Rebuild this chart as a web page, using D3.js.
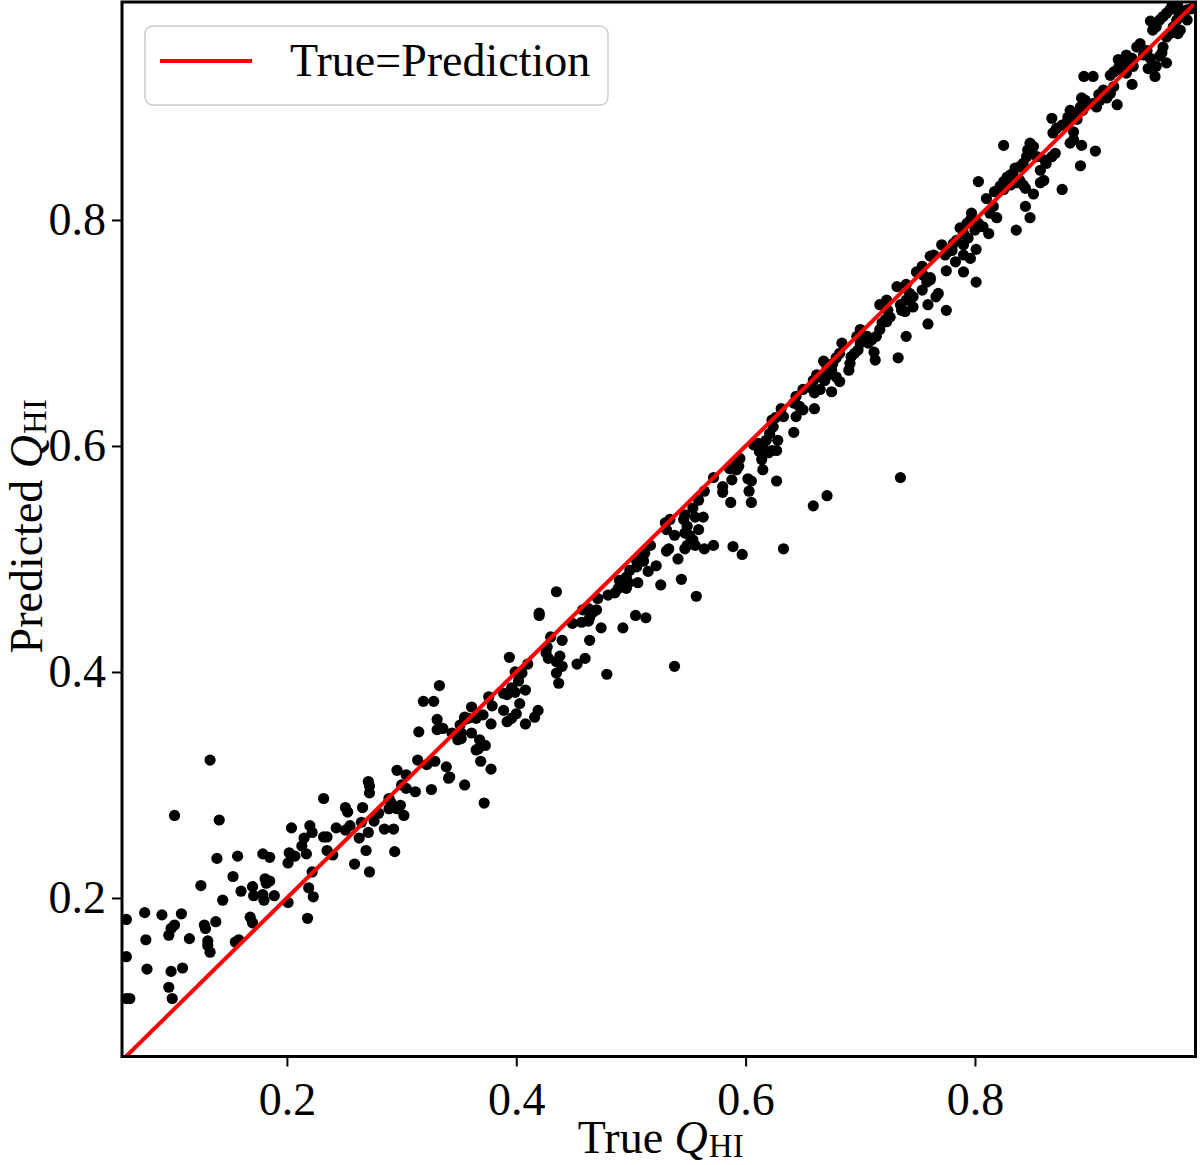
<!DOCTYPE html>
<html>
<head>
<meta charset="utf-8">
<script src="https://cdn.jsdelivr.net/npm/d3@7"></script>
<style>
  body { margin: 0; background: #fff; }
  svg text { font-family: "Liberation Serif", "Times New Roman", serif; }
</style>
</head>
<body>
<div id="chart"></div>
<script>
// True vs predicted Q_HI
const trueQ = [
  0.102,0.141,0.232,0.271,0.272,0.272,0.251,0.253,0.266,0.280,
  0.289,0.291,0.204,0.220,0.222,0.215,0.213,0.232,0.235,0.243,
  0.251,0.255,0.265,0.276,0.271,0.263,0.285,0.293,0.294,0.269,
  0.259,0.272,0.235,0.240,0.217,0.202,0.204,0.207,0.201,0.179,
  0.185,0.157,0.139,0.153,0.181,0.182,0.185,0.170,0.171,0.160,
  0.179,0.180,0.189,0.201,0.219,0.223,0.222,0.218,0.125,0.144,
  0.168,0.170,0.060,0.076,0.091,0.108,0.099,0.102,0.097,0.077,
  0.115,0.128,0.129,0.138,0.131,0.131,0.133,0.155,0.158,0.060,
  0.078,0.099,0.109,0.097,0.100,0.060,0.063,0.133,
  0.435,0.420,0.420,0.471,0.480,0.458,0.463,0.467,0.470,0.449,
  0.457,0.463,0.464,0.474,0.464,0.440,0.430,0.427,0.426,0.428,
  0.438,0.435,0.440,0.435,0.437,0.453,0.460,0.479,0.394,0.410,
  0.399,0.405,0.402,0.396,0.399,0.408,0.389,0.392,0.403,0.389,
  0.400,0.396,0.392,0.419,0.416,0.408,0.376,0.379,0.361,0.371,
  0.365,0.358,0.355,0.378,0.333,0.319,0.328,0.331,0.331,0.336,
  0.315,0.344,0.351,0.355,0.352,0.361,0.349,0.352,0.368,0.373,
  0.367,0.365,0.369,0.378,0.355,0.372,0.314,0.329,0.322,0.339,
  0.342,0.341,0.326,0.296,0.304,0.300,0.304,0.312,0.289,0.291,
  0.296,0.299,0.302,
  0.650,0.644,0.642,0.647,0.650,0.644,0.631,0.633,0.626,0.623,
  0.642,0.624,0.621,0.628,0.618,0.615,0.612,0.610,0.607,0.623,
  0.620,0.627,0.612,0.614,0.615,0.595,0.592,0.589,0.594,0.586,
  0.592,0.588,0.602,0.605,0.627,0.603,0.605,0.572,0.580,0.580,
  0.587,0.564,0.559,0.554,0.556,0.563,0.547,0.546,0.534,0.530,
  0.531,0.538,0.549,0.547,0.551,0.559,0.554,0.549,0.556,0.547,
  0.564,0.572,0.589,0.597,0.633,0.541,0.533,0.531,0.544,0.557,
  0.526,0.522,0.515,0.517,0.512,0.508,0.505,0.511,0.505,0.499,
  0.496,0.495,0.490,0.498,0.493,0.489,0.496,0.506,0.486,
  0.493,0.504,0.513,
  0.735,0.671,0.659,0.538,
  0.817,0.810,0.816,0.813,0.819,0.812,0.807,0.801,0.797,0.796,
  0.793,0.787,0.790,0.794,0.800,0.803,0.801,0.801,0.790,0.796,
  0.790,0.783,0.780,0.775,0.771,0.774,0.775,0.784,0.781,0.790,
  0.764,0.761,0.754,0.749,0.755,0.761,0.761,0.758,0.754,0.766,
  0.768,0.775,0.759,0.759,0.732,0.740,0.743,0.746,0.740,0.735,
  0.736,0.739,0.746,0.723,0.717,0.724,0.726,0.722,0.719,0.717,
  0.714,0.723,0.740,0.733,0.712,0.713,0.710,0.707,0.706,0.700,
  0.697,0.700,0.698,0.695,0.692,0.691,0.690,0.684,0.682,0.679,
  0.676,0.675,0.671,0.668,0.672,0.669,0.665,0.662,0.659,0.679,
  0.682,0.675,0.665,0.660,0.658,0.660,
  0.825,0.803,0.876,0.892,0.905,0.893,0.883,0.886,0.870,0.867,
  0.862,0.861,0.857,0.860,0.857,0.851,0.848,0.851,0.849,0.846,
  0.854,0.845,0.842,0.839,0.835,0.833,0.831,0.828,0.825,0.831,
  0.836,0.842,0.839,0.844,0.844,0.848,0.836,0.825,0.822,0.867,
  0.871,0.868,0.876,0.880,0.881,0.886,0.883,0.889,0.893,0.896,
  0.899,0.903,0.906,0.892,0.909,0.894,0.886,0.924,0.915,0.908,
  0.918,0.921,0.912,0.895,0.903,0.918,0.921,0.924,0.926,0.929,
  0.925,0.932,0.937,0.935,0.938,0.932,0.937,0.941,0.944,0.950,
  0.947,0.953,0.957,0.951,0.958,0.963,0.964,0.967,0.953,0.955,
  0.958,0.961,0.964,0.967,0.970,0.973,0.976,0.979,0.967,0.970,
  0.973,0.976,0.979,0.982,0.985,
  0.977,0.985,0.961,0.972,0.977,0.989
];

const predQ = [
  0.273,0.269,0.288,0.303,0.299,0.293,0.280,0.276,0.280,0.275,
  0.279,0.284,0.262,0.264,0.258,0.253,0.246,0.254,0.254,0.262,
  0.260,0.264,0.267,0.268,0.258,0.253,0.261,0.261,0.241,0.242,
  0.230,0.223,0.242,0.238,0.239,0.240,0.237,0.237,0.231,0.239,
  0.236,0.237,0.235,0.219,0.217,0.213,0.215,0.210,0.202,0.206,
  0.203,0.198,0.202,0.196,0.209,0.201,0.223,0.182,0.211,0.198,
  0.183,0.178,0.181,0.187,0.185,0.186,0.173,0.176,0.167,0.163,
  0.164,0.176,0.173,0.179,0.162,0.158,0.152,0.161,0.163,0.148,
  0.137,0.135,0.138,0.121,0.111,0.111,0.111,0.322,
  0.471,0.452,0.450,0.465,0.468,0.455,0.456,0.453,0.455,0.443,
  0.444,0.445,0.448,0.439,0.428,0.428,0.431,0.422,0.417,0.412,
  0.414,0.409,0.405,0.399,0.390,0.407,0.412,0.398,0.413,0.407,
  0.400,0.399,0.392,0.386,0.382,0.384,0.381,0.380,0.372,0.366,
  0.363,0.359,0.356,0.366,0.360,0.354,0.378,0.370,0.369,0.362,
  0.359,0.359,0.360,0.354,0.388,0.374,0.374,0.358,0.349,0.350,
  0.347,0.346,0.353,0.358,0.346,0.346,0.340,0.341,0.340,0.335,
  0.332,0.331,0.321,0.314,0.300,0.284,0.322,0.321,0.318,0.316,
  0.307,0.306,0.296,0.313,0.309,0.300,0.297,0.294,0.288,0.281,
  0.279,0.282,0.273,
  0.650,0.644,0.638,0.635,0.632,0.626,0.633,0.626,0.625,0.623,
  0.612,0.617,0.611,0.605,0.605,0.601,0.602,0.602,0.601,0.596,
  0.594,0.596,0.595,0.588,0.579,0.589,0.586,0.583,0.582,0.580,
  0.579,0.570,0.571,0.569,0.569,0.560,0.550,0.572,0.564,0.559,
  0.550,0.560,0.552,0.545,0.537,0.537,0.539,0.535,0.535,0.532,
  0.526,0.521,0.529,0.523,0.521,0.526,0.517,0.512,0.512,0.509,
  0.509,0.512,0.511,0.504,0.509,0.500,0.509,0.507,0.482,0.467,
  0.477,0.494,0.489,0.512,0.505,0.502,0.498,0.498,0.493,0.490,
  0.484,0.481,0.481,0.479,0.476,0.474,0.474,0.479,0.470,
  0.439,0.450,0.448,
  0.572,0.556,0.547,0.405,
  0.825,0.819,0.812,0.806,0.802,0.788,0.794,0.799,0.806,0.800,
  0.797,0.793,0.788,0.784,0.791,0.797,0.774,0.745,0.754,0.766,
  0.769,0.763,0.773,0.771,0.778,0.769,0.755,0.782,0.779,0.778,
  0.769,0.768,0.759,0.754,0.751,0.749,0.747,0.745,0.738,0.732,
  0.735,0.720,0.725,0.708,0.741,0.743,0.735,0.732,0.729,0.725,
  0.720,0.719,0.723,0.729,0.725,0.720,0.714,0.712,0.709,0.703,
  0.697,0.710,0.697,0.678,0.683,0.676,0.694,0.691,0.697,0.703,
  0.697,0.691,0.685,0.682,0.679,0.673,0.667,0.691,0.682,0.678,
  0.673,0.667,0.670,0.675,0.663,0.658,0.661,0.663,0.658,0.661,
  0.657,0.648,0.650,0.647,0.651,0.633,
  0.866,0.834,0.827,0.848,0.861,0.866,0.868,0.871,0.859,0.856,
  0.850,0.853,0.844,0.835,0.833,0.823,0.868,0.865,0.860,0.862,
  0.856,0.856,0.850,0.847,0.846,0.841,0.840,0.838,0.834,0.831,
  0.833,0.831,0.835,0.828,0.812,0.802,0.791,0.827,0.830,0.890,
  0.881,0.877,0.884,0.886,0.891,0.894,0.897,0.889,0.908,0.906,
  0.903,0.903,0.900,0.900,0.906,0.897,0.878,0.902,0.908,0.911,
  0.912,0.918,0.915,0.927,0.927,0.928,0.931,0.933,0.936,0.937,
  0.942,0.946,0.943,0.939,0.936,0.930,0.920,0.953,0.956,0.950,
  0.946,0.943,0.927,0.934,0.936,0.948,0.953,0.939,0.976,0.968,
  0.971,0.977,0.980,0.983,0.986,0.989,0.986,0.968,0.962,0.965,
  0.971,0.977,0.980,0.983,0.986,
  0.965,0.977,0.945,0.990,0.989,0.987
];

// axis limits and ticks
const xLimits = [0.0562, 0.9923];
const yLimits = [0.0597, 0.9929];
const xTicks = [0.2, 0.4, 0.6, 0.8];
const yTicks = [0.2, 0.4, 0.6, 0.8];
const legendLabel = "True=Prediction";

// Dimensions
const W = 1200, H = 1165;
const plotLeft = 122, plotTop = 2;
const plotW = 1073.5, plotH = 1054.5;
const fontSize = 46;

const svg = d3.select("#chart")
  .append("svg")
  .attr("width", W)
  .attr("height", H);

const g = svg.append("g")
  .attr("transform", `translate(${plotLeft},${plotTop})`);

const x = d3.scaleLinear().domain(xLimits).range([0, plotW]);
const y = d3.scaleLinear().domain(yLimits).range([plotH, 0]);

// Clip marks to the axes box
g.append("clipPath").attr("id", "plot-clip")
  .append("rect").attr("width", plotW).attr("height", plotH);

const plot = g.append("g").attr("clip-path", "url(#plot-clip)");

// Scatter points
plot.selectAll("circle")
  .data(d3.zip(trueQ, predQ))
  .join("circle")
  .attr("cx", d => x(d[0]))
  .attr("cy", d => y(d[1]))
  .attr("r", 5.6)
  .attr("fill", "#000");

// One-to-one line
const lo = Math.min(xLimits[0], yLimits[0]);
const hi = Math.max(xLimits[1], yLimits[1]);
plot.append("line")
  .attr("x1", x(lo)).attr("y1", y(lo))
  .attr("x2", x(hi)).attr("y2", y(hi))
  .attr("stroke", "#ff0000")
  .attr("stroke-width", 4);

// Axes
const fmt = d3.format(".1f");
const xAxisG = g.append("g")
  .attr("transform", `translate(0,${plotH})`)
  .call(d3.axisBottom(x).tickValues(xTicks).tickFormat(fmt).tickSize(10).tickPadding(16));
const yAxisG = g.append("g")
  .call(d3.axisLeft(y).tickValues(yTicks).tickFormat(fmt).tickSize(10).tickPadding(6));

[xAxisG, yAxisG].forEach(a => {
  a.select(".domain").remove();
  a.attr("font-family", null).attr("font-size", null);
  a.selectAll(".tick line").attr("stroke", "#000").attr("stroke-width", 2);
  a.selectAll(".tick text")
    .attr("fill", "#000")
    .style("font-size", fontSize + "px");
});

// Frame
g.append("rect")
  .attr("width", plotW)
  .attr("height", plotH)
  .attr("fill", "none")
  .attr("stroke", "#000")
  .attr("stroke-width", 3);

// Axis labels
function qhiLabel(sel, prefix) {
  sel.append("tspan").text(prefix);
  sel.append("tspan").attr("font-style", "italic").text("Q");
  sel.append("tspan").attr("font-size", 33).attr("dx", 1).attr("dy", 4).text("HI");
}

const xLabel = svg.append("text")
  .attr("x", plotLeft + plotW / 2 + 2)
  .attr("y", 1153)
  .attr("text-anchor", "middle")
  .attr("font-size", fontSize);
qhiLabel(xLabel, "True ");

const yLabel = svg.append("text")
  .attr("transform", `translate(42,${plotTop + plotH / 2 - 3}) rotate(-90)`)
  .attr("text-anchor", "middle")
  .attr("font-size", fontSize);
qhiLabel(yLabel, "Predicted ");

// Legend
const legend = svg.append("g");
legend.append("rect")
  .attr("x", 145).attr("y", 26)
  .attr("width", 463).attr("height", 79)
  .attr("rx", 8)
  .attr("fill", "#fff")
  .attr("fill-opacity", 0.8)
  .attr("stroke", "#cccccc")
  .attr("stroke-width", 1.5);
legend.append("line")
  .attr("x1", 160).attr("x2", 252)
  .attr("y1", 61).attr("y2", 61)
  .attr("stroke", "#ff0000")
  .attr("stroke-width", 4);
legend.append("text")
  .attr("x", 290).attr("y", 76)
  .attr("font-size", fontSize)
  .text(legendLabel);
</script>
</body>
</html>
